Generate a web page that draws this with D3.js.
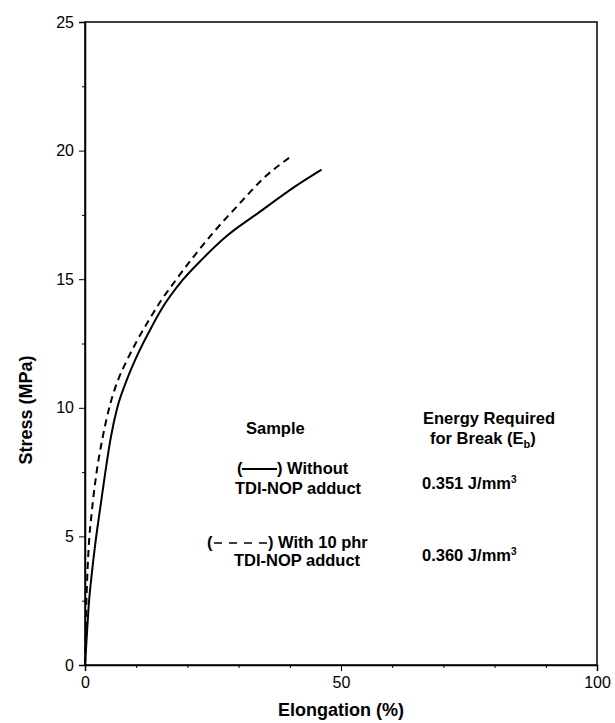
<!DOCTYPE html>
<html>
<head>
<meta charset="utf-8">
<script src="https://cdn.jsdelivr.net/npm/d3@7"></script>
<style>
  body { margin: 0; background: #fff; }
  svg text { font-family: Arial, "Liberation Sans", sans-serif; fill: #000; }
  .tick text { font-size: 16px; }
  .lab { font-size: 16.5px; font-weight: bold; }
</style>
</head>
<body>
<svg id="chart" width="615" height="723"></svg>
<script>
// solid curve: without TDI-NOP adduct
var plainElong = [0, 0.4, 0.8, 1.3, 2.0, 2.9, 3.9, 5.0, 6.3, 8.0, 10.0, 12.5, 15.0, 19.0, 23.0, 27.5, 34.0, 41.0, 46.2];
var plainStress = [0, 1.3, 2.5, 3.5, 4.7, 6.0, 7.4, 8.8, 10.0, 11.0, 11.95, 12.95, 13.85, 14.95, 15.8, 16.65, 17.6, 18.6, 19.26];
// dashed curve: with 10 phr TDI-NOP adduct
var adductElong = [0, 0.3, 0.7, 1.3, 2.2, 3.5, 5.0, 6.5, 8.2, 10.0, 12.3, 14.8, 17.5, 21.5, 25.0, 30.0, 35.0, 40.3];
var adductStress = [0, 2.6, 4.5, 5.9, 7.4, 8.9, 10.2, 11.1, 11.85, 12.55, 13.35, 14.15, 14.9, 15.95, 16.8, 17.9, 18.95, 19.78];

var xTicks = [0, 50, 100];
var yTicks = [0, 5, 10, 15, 20, 25];
var xMinor = [10, 20, 30, 40, 60, 70, 80, 90];
var yMinor = [2.5, 7.5, 12.5, 17.5, 22.5];

var svg = d3.select("#chart");
var plotL = 85, plotR = 597, plotT = 22, plotB = 665;

var x = d3.scaleLinear().domain([0, 100]).range([plotL, plotR]);
var y = d3.scaleLinear().domain([0, 25]).range([plotB, plotT]);

// frame
svg.append("rect")
  .attr("x", plotL).attr("y", plotT)
  .attr("width", plotR - plotL).attr("height", plotB - plotT)
  .attr("fill", "none").attr("stroke", "#000").attr("stroke-width", 1.5);

// axes
svg.append("g")
  .attr("transform", "translate(0," + plotB + ")")
  .call(d3.axisBottom(x).tickValues(xTicks).tickSize(6).tickPadding(6))
  .call(function (g) { g.select(".domain").attr("stroke-width", 1.5); });
svg.append("g")
  .attr("transform", "translate(0," + plotB + ")")
  .call(d3.axisBottom(x).tickValues(xMinor).tickSize(3).tickFormat(""))
  .call(function (g) { g.select(".domain").remove(); });

svg.append("g")
  .attr("transform", "translate(" + plotL + ",0)")
  .call(d3.axisLeft(y).tickValues(yTicks).tickSize(6).tickPadding(5))
  .call(function (g) { g.select(".domain").attr("stroke-width", 1.5); });
svg.append("g")
  .attr("transform", "translate(" + plotL + ",0)")
  .call(d3.axisLeft(y).tickValues(yMinor).tickSize(3).tickFormat(""))
  .call(function (g) { g.select(".domain").remove(); });

// axis titles
svg.append("text").attr("class", "lab")
  .attr("x", (plotL + plotR) / 2).attr("y", 716)
  .attr("text-anchor", "middle").style("font-size", "18px")
  .text("Elongation (%)");
svg.append("text").attr("class", "lab")
  .attr("transform", "translate(32,410) rotate(-90)")
  .attr("text-anchor", "middle").style("font-size", "18px")
  .text("Stress (MPa)");

// curves
var line = d3.line()
  .x(function (d) { return x(d[0]); })
  .y(function (d) { return y(d[1]); })
  .curve(d3.curveMonotoneX);

svg.append("path")
  .datum(d3.zip(plainElong, plainStress))
  .attr("d", line)
  .attr("fill", "none").attr("stroke", "#000").attr("stroke-width", 2);

svg.append("path")
  .datum(d3.zip(adductElong, adductStress))
  .attr("d", line)
  .attr("fill", "none").attr("stroke", "#000").attr("stroke-width", 2)
  .attr("stroke-dasharray", "7,5");

// legend / annotation
function label(tx, ty, str, anchor) {
  return svg.append("text").attr("class", "lab")
    .attr("x", tx).attr("y", ty)
    .attr("text-anchor", anchor || "start")
    .text(str);
}

label(246, 434, "Sample");
label(423, 424, "Energy Required");
var brk = label(430, 444, "for Break (E");
brk.append("tspan").attr("dy", 4).style("font-size", "11px").text("b");
brk.append("tspan").attr("dy", -4).text(")");

label(237, 474, "(");
svg.append("line")
  .attr("x1", 242).attr("x2", 277).attr("y1", 469).attr("y2", 469)
  .attr("stroke", "#000").attr("stroke-width", 2);
label(277, 474, ") Without");
label(298, 494, "TDI-NOP adduct", "middle");

var e1 = label(422, 489, "0.351 J/mm");
e1.append("tspan").attr("dy", -6).style("font-size", "10px").text("3");

label(207, 548, "(");
svg.append("line")
  .attr("x1", 214).attr("x2", 268).attr("y1", 543).attr("y2", 543)
  .attr("stroke", "#000").attr("stroke-width", 1.5)
  .attr("stroke-dasharray", "8,7");
label(268, 548, ") With 10 phr");
label(297, 566, "TDI-NOP adduct", "middle");

var e2 = label(422, 561, "0.360 J/mm");
e2.append("tspan").attr("dy", -6).style("font-size", "10px").text("3");
</script>
</body>
</html>
